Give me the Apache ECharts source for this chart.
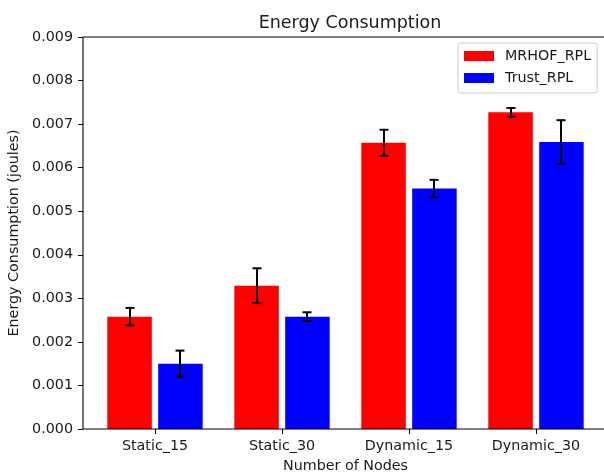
<!DOCTYPE html>
<html>
<head>
<meta charset="utf-8">
<script src="https://cdn.jsdelivr.net/npm/echarts@6/dist/echarts.min.js"></script>
<style>
  html, body { margin: 0; padding: 0; background: #fff; }
  #chart { width: 604px; height: 475px; }
</style>
</head>
<body>
<div id="chart"></div>
<script>
// Energy consumption per scenario, mean values with standard deviation
const categories = ['Static_15', 'Static_30', 'Dynamic_15', 'Dynamic_30'];
const mrhofRpl = [0.00258, 0.00329, 0.00657, 0.00727];
const trustRpl = [0.00150, 0.00258, 0.00552, 0.00659];
const mrhofErr = [0.0002, 0.0004, 0.0003, 0.0001];
const trustErr = [0.0003, 0.0001, 0.0002, 0.0005];
const yTicks = [0, 0.001, 0.002, 0.003, 0.004, 0.005, 0.006, 0.007, 0.008, 0.009];

const FONT = 'DejaVu Sans';
const TXT = '#1a1a1a';
const LABEL_SIZE = 14.3;

// error bar records: [category index, mean, deviation, side (-1 left bar, +1 right bar)]
const errData = [];
categories.forEach((c, i) => {
  errData.push([i, mrhofRpl[i], mrhofErr[i], -1]);
  errData.push([i, trustRpl[i], trustErr[i], 1]);
});

function renderErr(params, api) {
  const idx = api.value(0);
  const mean = api.value(1);
  const dev = api.value(2);
  const side = api.value(3);
  const band = api.size([1, 0])[0];
  const dx = side * 0.2 * band;
  const top = api.coord([idx, mean + dev]);
  const bot = api.coord([idx, mean - dev]);
  const x = Math.round(top[0] + dx);
  const cap = 4.5;
  const st = { stroke: '#000', lineWidth: 2 };
  return {
    type: 'group',
    children: [
      { type: 'line', shape: { x1: x, y1: top[1], x2: x, y2: bot[1] }, style: st },
      { type: 'line', shape: { x1: x - cap, y1: top[1], x2: x + cap, y2: top[1] }, style: st },
      { type: 'line', shape: { x1: x - cap, y1: bot[1], x2: x + cap, y2: bot[1] }, style: st }
    ]
  };
}

const chart = echarts.init(document.getElementById('chart'), null, { renderer: 'canvas' });
chart.setOption({
  animation: false,
  backgroundColor: '#fff',
  textStyle: { fontFamily: FONT },
  title: {
    text: 'Energy Consumption',
    left: 345, top: 9,
    textAlign: 'center',
    textStyle: { fontFamily: FONT, fontSize: 17.5, fontWeight: 'normal', color: TXT }
  },
  legend: {
    orient: 'vertical',
    left: 458, top: 43,
    data: ['MRHOF_RPL', 'Trust_RPL'],
    icon: 'rect',
    itemWidth: 30, itemHeight: 10,
    itemGap: 6,
    padding: [5, 6, 7, 6],
    backgroundColor: 'rgba(255,255,255,0.8)',
    borderColor: '#cccccc', borderWidth: 1, borderRadius: 3,
    textStyle: { fontFamily: FONT, fontSize: LABEL_SIZE, color: TXT, lineHeight: 16, padding: [0, 0, 0, 6] }
  },
  // axes frame: left, top and bottom spines (the right one lies past the canvas edge)
  graphic: [
    { type: 'line', z: 100, shape: { x1: 83, y1: 37, x2: 604, y2: 37 }, style: { stroke: '#000', lineWidth: 1.1 } },
    { type: 'line', z: 100, shape: { x1: 83, y1: 429, x2: 604, y2: 429 }, style: { stroke: '#000', lineWidth: 1.1 } },
    { type: 'line', z: 100, shape: { x1: 83, y1: 37, x2: 83, y2: 429 }, style: { stroke: '#000', lineWidth: 1.1 } }
  ],
  grid: {
    left: 91.5, top: 37, width: 508, height: 392,
    containLabel: false, outerBoundsMode: 'none'
  },
  xAxis: {
    type: 'category', data: categories,
    name: 'Number of Nodes', nameLocation: 'middle', nameGap: 30,
    nameTextStyle: { fontFamily: FONT, fontSize: LABEL_SIZE, color: TXT },
    axisLine: { show: false },
    axisTick: { show: true, alignWithLabel: true, length: 5, lineStyle: { color: '#000', width: 1 } },
    axisLabel: { fontFamily: FONT, fontSize: LABEL_SIZE, color: TXT, margin: 10 },
    splitLine: { show: false }
  },
  yAxis: {
    type: 'value', min: 0, max: 0.009, interval: 0.001,
    offset: 8.5,
    name: 'Energy Consumption (joules)', nameLocation: 'middle', nameGap: 53,
    nameTextStyle: { fontFamily: FONT, fontSize: LABEL_SIZE, color: TXT },
    axisLine: { show: false },
    axisTick: { show: true, length: 5, lineStyle: { color: '#000', width: 1 } },
    axisLabel: {
      fontFamily: FONT, fontSize: LABEL_SIZE, color: TXT, margin: 10,
      formatter: v => {
        const t = yTicks.find(k => Math.abs(k - v) < 1e-9);
        return (t === undefined ? v : t).toFixed(3);
      }
    },
    splitLine: { show: false }
  },
  series: [
    {
      name: 'MRHOF_RPL', type: 'bar',
      data: mrhofRpl, barWidth: 44.5, barGap: '14.3%',
      itemStyle: { color: '#ff0000', borderWidth: 0 }
    },
    {
      name: 'Trust_RPL', type: 'bar',
      data: trustRpl, barWidth: 44.5, barGap: '14.3%',
      itemStyle: { color: '#0000ff', borderWidth: 0 }
    },
    {
      name: 'deviation', type: 'custom',
      data: errData, renderItem: renderErr, z: 5,
      encode: { x: 0, y: 1 }
    }
  ]
});
</script>
</body>
</html>
